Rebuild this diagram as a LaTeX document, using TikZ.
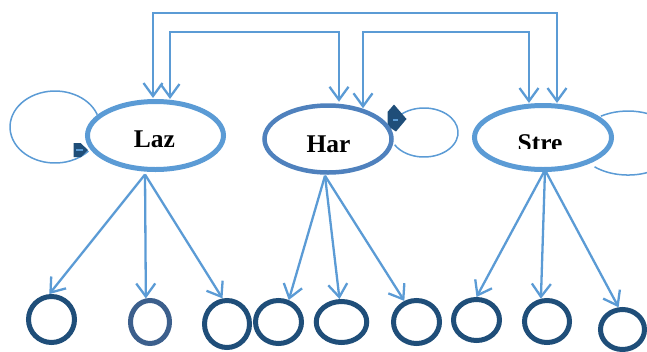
\documentclass[tikz,border=0pt]{standalone}
\usepackage{fontspec}
\setmainfont{Liberation Serif}
\usetikzlibrary{arrows.meta,shapes.geometric,calc}
\definecolor{lineblue}{HTML}{5B9BD5}
\definecolor{harblue}{HTML}{4F81BD}
\definecolor{navy}{HTML}{1F4E79}
\definecolor{slate}{HTML}{3C5F8C}
\begin{document}
\begin{tikzpicture}[x=1pt,y=-1pt,
  barbs/.style={line width=2.3pt, draw=lineblue},
  link/.style={barbs, {Straight Barb[length=13pt,width=19pt]}-{Straight Barb[length=13pt,width=19pt]}},
  downlink/.style={barbs, -{Straight Barb[length=13pt,width=19pt]}},
  loopline/.style={draw=lineblue, line width=1.5pt},
  state/.style={ellipse, draw=lineblue, line width=5pt, inner sep=0pt},
  leaf/.style={ellipse, draw=navy, line width=5pt, inner sep=0pt},
  lbl/.style={inner sep=0pt, font=\fontsize{25.5}{30}\selectfont\bfseries}]
\clip (0,0) rectangle (647,351);

% self loops (drawn first, the state ellipses cover their ends)
\coordinate (LazLoop) at (97.3,114.7);
\draw[loopline] (LazLoop) arc[start angle=-20, end angle=-318, x radius=45, y radius=36];
\coordinate (HarLoop) at (394.6,120.25);
\draw[loopline] (HarLoop) arc[start angle=-150, end angle=150, x radius=34, y radius=24.5];
\coordinate (StreLoop) at (600.8,116.2);
\draw[loopline] (StreLoop) arc[start angle=-123, end angle=132, x radius=50, y radius=32];

% loop markers
\fill[navy] (73.5,143) -- (80.5,143) -- (88,150) -- (81,157) -- (73.5,157) -- cycle;
\draw[lineblue, line width=1.2pt] (76,150) -- (83,150);
\fill[navy] (387.5,112) -- (394,104.5) -- (406.5,119) -- (396,131.5) -- (387.5,126) -- cycle;
\draw[lineblue, line width=1.2pt] (393,120) -- (398,120);

% states
\node[state, minimum width=136pt, minimum height=68pt] (Laz) at (155.5,135.5) {};
\node[state, draw=harblue, line width=4.5pt, minimum width=127pt, minimum height=67pt] (Har) at (328,139) {};
\node[state, minimum width=137pt, minimum height=64pt] (Stre) at (543,137.5) {};

\node[lbl, anchor=base] (LazText) at (154.5,147) {Laz};
\node[lbl, anchor=base] (HarText) at (328.5,152) {Har};
\begin{scope}
  \clip (490,120) rectangle (600,148.8);
  \node[lbl, anchor=base] (StreText) at (540,151) {Stre};
\end{scope}

% links along the top
\coordinate (TopOuter) at (350,13);
\coordinate (TopLeft) at (250,32);
\coordinate (TopRight) at (450,32);
\draw[link] ($(Laz.north)+(-2.5,-1)$) |- (TopOuter) -| ($(Stre.north)+(14,0)$);
\draw[link] ($(Laz.north)+(14.5,0)$) |- (TopLeft) -| ($(Har.north)+(11,-1.5)$);
\draw[link] ($(Har.north)+(35,5)$) |- (TopRight) -| ($(Stre.north)+(-14,0)$);

% leaves
\node[leaf, minimum width=46pt, minimum height=46pt] (c1) at (51.5,319.5) {};
\node[leaf, draw=slate, minimum width=39pt, minimum height=43pt] (c2) at (150,322) {};
\node[leaf, minimum width=45pt, minimum height=47pt] (c3) at (227,324) {};
\node[leaf, minimum width=46pt, minimum height=43pt] (c4) at (278.5,322) {};
\node[leaf, minimum width=50.5pt, minimum height=41pt] (c5) at (341.5,322) {};
\node[leaf, minimum width=46pt, minimum height=43pt] (c6) at (416.5,322) {};
\node[leaf, minimum width=46pt, minimum height=41pt] (c7) at (476.5,320) {};
\node[leaf, minimum width=45pt, minimum height=42pt] (c8) at (547,321.5) {};
\node[leaf, minimum width=44pt, minimum height=40pt] (c9) at (622.5,329.5) {};

% links down to the leaves
\coordinate (LazFoot) at ($(Laz.south)+(-10.5,2.5)$);
\coordinate (HarFoot) at ($(Har.south)+(-3,1)$);
\coordinate (StreFoot) at ($(Stre.south)+(2,-2)$);
\draw[downlink] (LazFoot) -- (c1.95);
\draw[downlink] (LazFoot) -- (c2.100);
\draw[downlink] (LazFoot) -- (c3.100);
\draw[downlink] (HarFoot) -- (c4.65);
\draw[downlink] (HarFoot) -- (c5.95);
\draw[downlink] (HarFoot) -- (c6.120);
\draw[downlink] (StreFoot) -- (c7.north);
\draw[downlink] (StreFoot) -- (c8.105);
\draw[downlink] (StreFoot) -- (c9.100);
\end{tikzpicture}
\end{document}
